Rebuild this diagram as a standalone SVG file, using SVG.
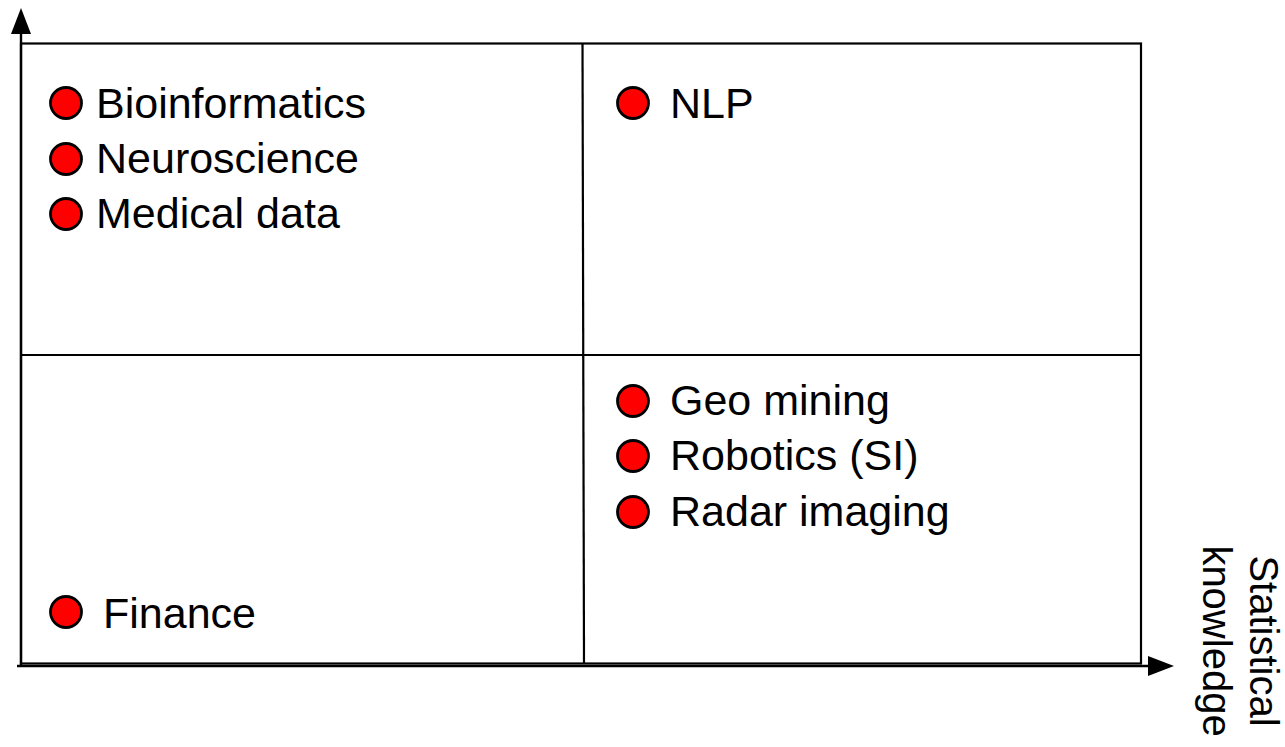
<svg xmlns="http://www.w3.org/2000/svg" width="1285" height="747" viewBox="0 0 1285 747">
  <style>
    .grid { fill: none; stroke: #000; stroke-width: 2.2; }
    .axis { fill: none; stroke: #000; stroke-width: 2.4; }
    .dot { fill: #ff0000; stroke: #000; stroke-width: 2.8; }
    .label { font-family: "Liberation Sans", Arial, Helvetica, sans-serif; font-size: 43px; fill: #000; }
    .axis-label { font-family: "Liberation Sans", Arial, Helvetica, sans-serif; font-size: 40px; fill: #000; text-anchor: middle; }
  </style>
  <defs>
    <marker id="arrow" viewBox="0 0 26 20" refX="0" refY="10" markerWidth="26" markerHeight="20" markerUnits="userSpaceOnUse" orient="auto">
      <path d="M0,0 L26,10 L0,20 Z" fill="#000"/>
    </marker>
  </defs>

  <rect width="1285" height="747" fill="#fff"/>

  <!-- quadrant frame -->
  <g id="quadrants">
    <rect class="grid" x="21" y="43.5" width="1120" height="620"/>
    <line class="grid" x1="21" y1="355" x2="1141" y2="355"/>
    <line class="grid" x1="582.5" y1="43.5" x2="584" y2="663.5"/>
  </g>

  <!-- axes -->
  <g id="connectors">
    <line class="axis" x1="21" y1="666" x2="21" y2="34" marker-end="url(#arrow)"/>
    <line class="axis" x1="17" y1="666" x2="1148" y2="666" marker-end="url(#arrow)"/>
  </g>

  <g id="axis-label">
    <g transform="translate(1250,641) rotate(90)">
      <text class="axis-label" x="0" y="0">Statistical</text>
      <text class="axis-label" x="0" y="47">knowledge</text>
    </g>
  </g>

  <!-- upper-left quadrant -->
  <g id="bioinformatics">
    <circle class="dot" cx="66" cy="103" r="15.5"/>
    <text class="label" x="96" y="118">Bioinformatics</text>
  </g>
  <g id="neuroscience">
    <circle class="dot" cx="66" cy="159" r="15.5"/>
    <text class="label" x="96" y="173">Neuroscience</text>
  </g>
  <g id="medical-data">
    <circle class="dot" cx="66" cy="214" r="15.5"/>
    <text class="label" x="96" y="228">Medical data</text>
  </g>

  <!-- upper-right quadrant -->
  <g id="nlp">
    <circle class="dot" cx="633" cy="103" r="15.5"/>
    <text class="label" x="670" y="118">NLP</text>
  </g>

  <!-- lower-right quadrant -->
  <g id="geo-mining">
    <circle class="dot" cx="633" cy="401" r="15.5"/>
    <text class="label" x="670" y="415">Geo mining</text>
  </g>
  <g id="robotics">
    <circle class="dot" cx="633" cy="456" r="15.5"/>
    <text class="label" x="670" y="470">Robotics (SI)</text>
  </g>
  <g id="radar-imaging">
    <circle class="dot" cx="633" cy="512" r="15.5"/>
    <text class="label" x="670" y="526">Radar imaging</text>
  </g>

  <!-- lower-left quadrant -->
  <g id="finance">
    <circle class="dot" cx="66" cy="612" r="15.5"/>
    <text class="label" x="103" y="628">Finance</text>
  </g>
</svg>
